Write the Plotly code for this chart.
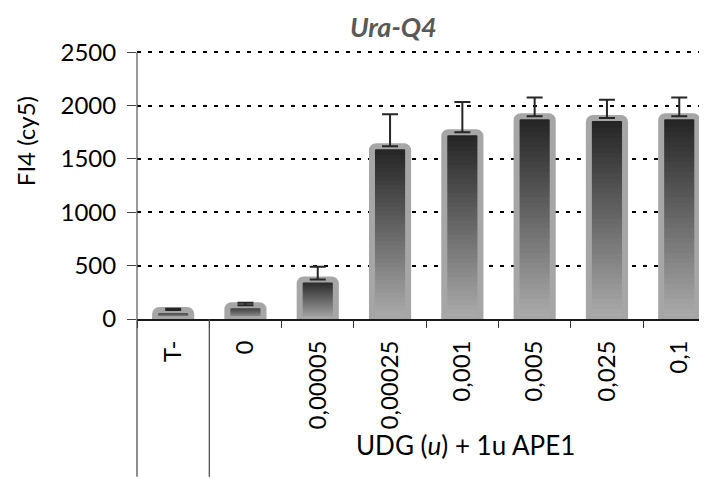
import plotly.graph_objects as go

categories = ["T-", "0", "0,00005", "0,00025", "0,001", "0,005", "0,025", "0,1"]
values = [85, 130, 370, 1620, 1750, 1900, 1885, 1900]
errors = [10, 22, 120, 300, 285, 175, 170, 175]
group_label = "UDG (<i>u</i>) + 1u APE1"
title_text = "<b><i>Ura-Q4</i></b>"
y_title = "FI4 (cy5)"
y_ticks = [0, 500, 1000, 1500, 2000, 2500]

FONT = "Lato"
N = 40
top_rgb = (34, 34, 34)
bot_rgb = (172, 172, 172)

OFF = 8  # page body margin offset
W, H = 707 - OFF, 479 - OFF

fig = go.Figure()

# gradient fill built from overlapping slices of each bar
for i in range(N):
    t = (i + 0.5) / N  # 0 bottom -> 1 top
    c = tuple(int(round(bot_rgb[k] + (top_rgb[k] - bot_rgb[k]) * t)) for k in range(3))
    bases = [v * i / N for v in values]
    heights = [min(v * (i + 1.8) / N, v) - v * i / N for v in values]
    fig.add_trace(go.Bar(
        x=categories, y=heights, base=bases, width=0.5,
        marker=dict(color=f"rgb{c}", line=dict(width=0)),
        showlegend=False, hoverinfo="skip",
    ))

# outline + error bars
fig.add_trace(go.Bar(
    x=categories, y=values, width=0.5,
    marker=dict(color="rgba(0,0,0,0)", line=dict(color="#a6a6a6", width=6), cornerradius=4),
    error_y=dict(type="data", array=errors, arrayminus=[0] * len(errors), symmetric=False,
                 color="#262626", thickness=2, width=8),
    showlegend=False,
))

plot_left, plot_right = 137 - OFF, 707 - OFF
cat_px = 72.3
xmax = -0.5 + (plot_right - plot_left) / cat_px
ymax = 2540
plot_bottom = 319 - OFF
plot_top = plot_bottom - (319 - 52) * ymax / 2500
ph = plot_bottom - plot_top
pw = plot_right - plot_left

fig.update_layout(
    width=W, height=H,
    margin=dict(l=plot_left, r=W - plot_right, t=plot_top, b=H - plot_bottom, pad=0, autoexpand=False),
    paper_bgcolor="white", plot_bgcolor="white",
    barmode="overlay",
    font=dict(family=FONT, size=24, color="#000000"),
    xaxis=dict(
        type="category", range=[-0.5, xmax], automargin=False,
        showline=True, linecolor="#1a1a1a", linewidth=1.8,
        ticks="outside", ticklen=7, tickwidth=1.2, tickcolor="#333333",
        tickson="boundaries", tickangle=-90, ticklabelstandoff=10,
        tickfont=dict(family=FONT, size=24, color="#000000"),
        showgrid=False, zeroline=False,
    ),
    yaxis=dict(
        range=[0, ymax], tickvals=y_ticks, automargin=False,
        showline=False,
        ticks="outside", ticklen=9, tickwidth=1, tickcolor="#444444",
        ticklabelstandoff=6,
        tickfont=dict(family=FONT, size=24, color="#000000"),
        showgrid=True, gridcolor="#000000", gridwidth=2.2, griddash="4px,7px",
        zeroline=False,
    ),
)

# y axis line from 0 up to the top tick, extended down through the category area
ext = -(477 - 319) / ph
fig.add_shape(type="line", xref="paper", yref="y", x0=0, x1=0, y0=0, y1=y_ticks[-1],
              line=dict(color="#555555", width=1.2), layer="above")
fig.add_shape(type="line", xref="paper", yref="paper", x0=0, x1=0, y0=0, y1=ext,
              line=dict(color="#444444", width=1.2), layer="above")
fig.add_shape(type="line", xref="x", yref="paper", x0=0.5, x1=0.5, y0=0, y1=ext,
              line=dict(color="#444444", width=1.2), layer="above")


def px_to_paper(xp, yp):
    return (xp - OFF - plot_left) / pw, (plot_bottom - (yp - OFF)) / ph


tx, ty = px_to_paper(393, 26)
fig.add_annotation(text=title_text, xref="paper", yref="paper", x=tx, y=ty,
                   xanchor="center", yanchor="middle",
                   showarrow=False, font=dict(family=FONT, size=27, color="#595959"))
ax_, ay_ = px_to_paper(25, 141)
fig.add_annotation(text=y_title, xref="paper", yref="paper", x=ax_, y=ay_, textangle=-90,
                   xanchor="center", yanchor="middle",
                   showarrow=False, font=dict(family=FONT, size=24, color="#000000"))
gx, gy = px_to_paper(465, 445)
fig.add_annotation(text=group_label, xref="paper", yref="paper", x=gx, y=gy,
                   xanchor="center", yanchor="middle",
                   showarrow=False, font=dict(family=FONT, size=26, color="#000000"))

fig.write_html("out.html")
